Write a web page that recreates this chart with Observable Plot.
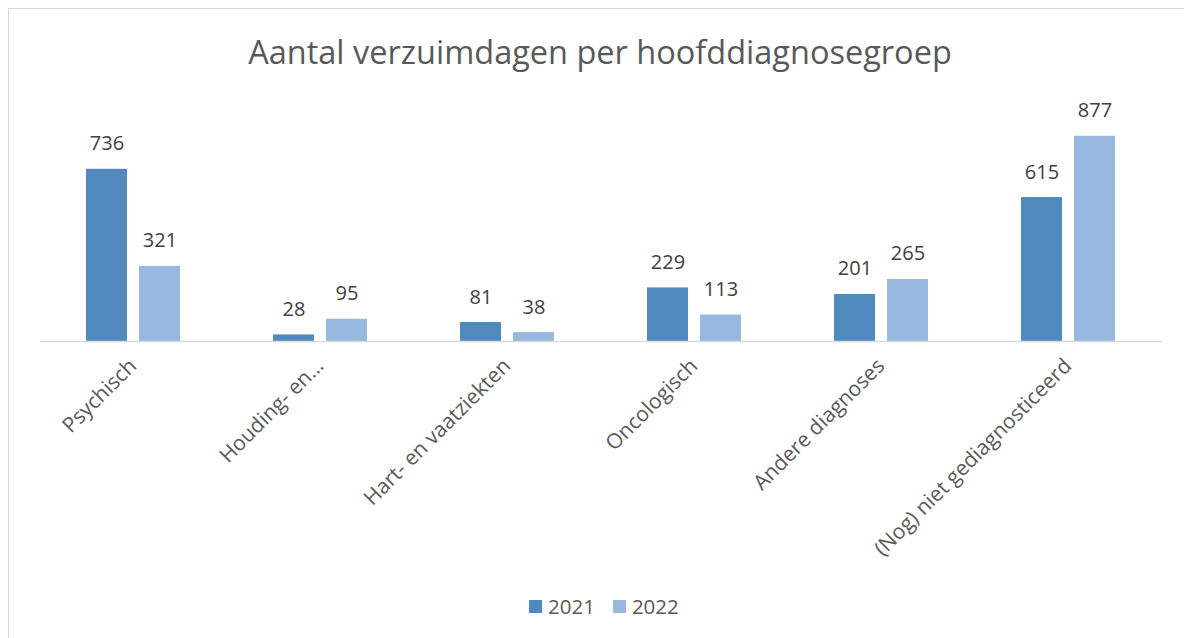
<!DOCTYPE html>
<html><head><meta charset="utf-8">
<script src="https://cdn.jsdelivr.net/npm/d3@7"></script>
<script src="https://cdn.jsdelivr.net/npm/@observablehq/plot@0.6"></script>
<style>
body{margin:0;width:1184px;height:638px;overflow:hidden;background:#fff;font-family:"Open Sans",sans-serif;position:relative;}
#frame{position:absolute;left:8px;top:8px;width:1200px;height:700px;border:1px solid #d9d9d9;box-sizing:border-box;}
#title{position:absolute;left:0;width:1200px;top:30px;text-align:center;font-size:32.5px;color:#595959;line-height:44px;white-space:nowrap;}
#chart{position:absolute;left:0;top:80px;}
#legend{position:absolute;left:529px;top:592px;display:flex;align-items:center;font-size:20.5px;color:#595959;line-height:28px;}
#legend .sw{width:13px;height:13px;display:inline-block;margin-right:6px;}
#legend .it{display:flex;align-items:center;margin-right:18px;}
</style></head>
<body>
<div id="frame"></div>
<div id="title">Aantal verzuimdagen per hoofddiagnosegroep</div>
<div id="chart"></div>
<div id="legend"></div>
<script>
const categories = ["Psychisch","Houding- en bewegingsapparaat","Hart- en vaatziekten","Oncologisch","Andere diagnoses","(Nog) niet gediagnosticeerd"];
const tickLabels = ["Psychisch","Houding- en…","Hart- en vaatziekten","Oncologisch","Andere diagnoses","(Nog) niet gediagnosticeerd"];
const years = ["2021","2022"];
const values2021 = [736,28,81,229,201,615];
const values2022 = [321,95,38,113,265,877];
const colors = ["#4f89bd","#97b9e0"];

const data = [];
categories.forEach((c,i)=>{
  data.push({category:c, year:years[0], value:values2021[i]});
  data.push({category:c, year:years[1], value:values2022[i]});
});

const chart = Plot.plot({
  width:1184, height:500,
  marginTop:27, marginBottom:239, marginLeft:38, marginRight:20,
  style:{fontFamily:"Open Sans, sans-serif", background:"transparent", overflow:"visible"},
  fx:{domain:categories, paddingInner:0, paddingOuter:0},
  x:{domain:years, paddingInner:0.2222, paddingOuter:0.849, axis:null},
  y:{domain:[0,1000], axis:null},
  color:{domain:years, range:colors},
  marks:[
    Plot.barY(data,{fx:"category", x:"year", y:"value", fill:"year"}),
    Plot.ruleY([0],{stroke:"#d9d9d9", strokeWidth:1.5}),
    Plot.text(data,{fx:"category", x:"year", y:"value", text:d=>String(d.value), lineAnchor:"bottom", dy:-19, fill:"#404040", fontSize:20}),
    Plot.axisFx({anchor:"bottom", tickRotate:-45, tickSize:0, tickPadding:21, fontSize:21, fill:"#595959", dx:-1, label:null,
      tickFormat:d=>tickLabels[categories.indexOf(d)]})
  ]
});
document.getElementById("chart").appendChild(chart);

const leg = document.getElementById("legend");
years.forEach((y,i)=>{
  const it = document.createElement("span"); it.className="it";
  const sw = document.createElement("span"); sw.className="sw"; sw.style.background=colors[i];
  it.appendChild(sw); it.appendChild(document.createTextNode(y));
  leg.appendChild(it);
});
</script>
</body></html>
